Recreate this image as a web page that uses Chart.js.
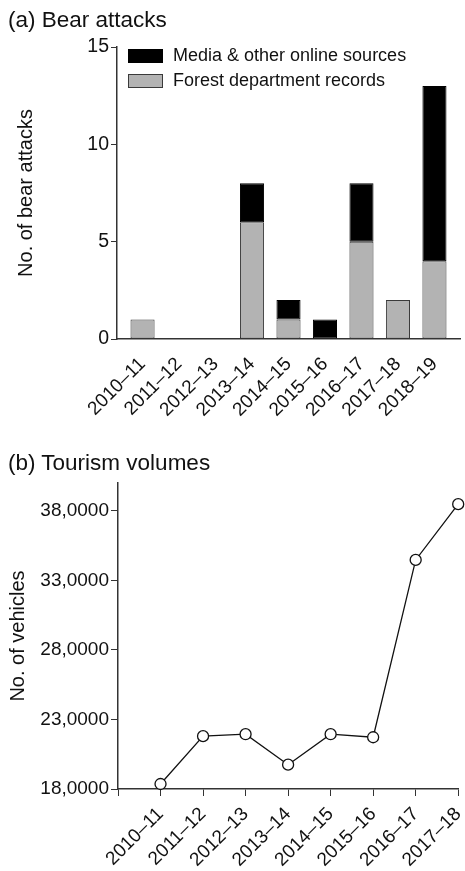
<!DOCTYPE html>
<html>
<head>
<meta charset="utf-8">
<script src="https://cdn.jsdelivr.net/npm/chart.js@4/dist/chart.umd.min.js"></script>
<style>
    body { margin: 0; background: #fff; font-family: "Liberation Sans", Arial, sans-serif; }
    .panel { position: absolute; left: 0; width: 465px; }
    .title { position: absolute; left: 8px; font-size: 22.5px; color: #111; }
</style>
</head>
<body>
<div class="panel" style="top: 0; height: 460px;"><canvas id="bearChart"></canvas></div>
<div class="panel" style="top: 455px; height: 416px;"><canvas id="tourChart"></canvas></div>
<div class="title" style="top: 7px;">(a) Bear attacks</div>
<div class="title" style="top: 450px;">(b) Tourism volumes</div>
<script>
// Bear attacks data
const bearYears = ['2010–11', '2011–12', '2012–13', '2013–14', '2014–15', '2015–16', '2016–17', '2017–18', '2018–19'];
const forestRecords = [1, 0, 0, 6, 1, 0, 5, 2, 4];
const mediaSources = [0, 0, 0, 2, 1, 1, 3, 0, 9];
const bearTicks = [0, 5, 10, 15];

// Tourism data
const tourYears = ['2010–11', '2011–12', '2012–13', '2013–14', '2014–15', '2015–16', '2016–17', '2017–18'];
const vehicles = [183600, 218000, 219400, 197500, 219400, 217200, 344700, 384800];
const vehicleTicks = [180000, 230000, 280000, 330000, 380000];

const font = 'Liberation Sans, Arial, sans-serif';
const ink = '#111';
Chart.defaults.font.family = font;
Chart.defaults.color = ink;

const toPoints = (arr) => arr.map((v, i) => ({ x: i, y: v === 0 ? null : v }));

// drop the extra side padding that rotated labels ask for
const noSidePad = (s) => { s.paddingLeft = 0; s.paddingRight = 0; };

// legend drawn inside the plot, top-left
const insideLegend = {
    id: 'insideLegend',
    afterDraw(chart) {
        const { ctx, chartArea } = chart;
        const items = [chart.data.datasets[1], chart.data.datasets[0]];
        ctx.save();
        ctx.font = '18px ' + font;
        ctx.textBaseline = 'middle';
        items.forEach((ds, i) => {
            const x = chartArea.left + 11;
            const y = chartArea.top + 2 + i * 25;
            ctx.fillStyle = ds.backgroundColor;
            ctx.strokeStyle = ds.borderColor;
            ctx.lineWidth = 1;
            ctx.fillRect(x, y, 35, 14);
            ctx.strokeRect(x + 0.5, y + 0.5, 34, 13);
            ctx.fillStyle = ink;
            ctx.fillText(ds.label, x + 45, y + 7);
        });
        ctx.restore();
    }
};

new Chart(document.getElementById('bearChart'), {
    type: 'bar',
    data: {
        datasets: [
            {
                label: 'Forest department records',
                data: toPoints(forestRecords),
                backgroundColor: '#b3b3b3',
                borderColor: '#3a3a3a',
                borderWidth: 1,
                borderSkipped: false
            },
            {
                label: 'Media & other online sources',
                data: toPoints(mediaSources),
                backgroundColor: '#000',
                borderColor: '#000',
                borderWidth: 1,
                borderSkipped: false
            }
        ]
    },
    options: {
        responsive: true,
        maintainAspectRatio: false,
        animation: false,
        barPercentage: 0.66,
        categoryPercentage: 1,
        layout: { padding: { top: 47, right: 5, left: 0, bottom: 0 } },
        plugins: { legend: { display: false }, tooltip: { enabled: false } },
        scales: {
            x: {
                type: 'linear',
                stacked: true,
                offset: false,
                min: -0.7,
                max: 8.7,
                afterBuildTicks: (s) => { s.ticks = bearYears.map((_, i) => ({ value: i })); },
                afterFit: (s) => { s.height = 121; noSidePad(s); },
                grid: { display: false },
                border: { display: true, color: '#333', width: 1.5 },
                ticks: {
                    autoSkip: false,
                    minRotation: 45,
                    maxRotation: 45,
                    padding: 6,
                    font: { size: 19 },
                    callback: (v) => bearYears[v]
                }
            },
            y: {
                stacked: true,
                min: 0,
                max: 15,
                afterBuildTicks: (s) => { s.ticks = bearTicks.map(v => ({ value: v })); },
                afterFit: (s) => { s.width = 117; },
                grid: { drawOnChartArea: false, drawTicks: true, tickLength: 6, color: '#333' },
                border: { display: true, color: '#333', width: 1.5 },
                ticks: { font: { size: 19.5 }, padding: 2 },
                title: {
                    display: true,
                    text: 'No. of bear attacks',
                    font: { size: 20 },
                    padding: { top: 14, bottom: 0 }
                }
            }
        }
    },
    plugins: [insideLegend]
});

new Chart(document.getElementById('tourChart'), {
    type: 'line',
    data: {
        datasets: [{
            label: 'Vehicles',
            data: vehicles.map((v, i) => ({ x: i, y: v })),
            borderColor: ink,
            borderWidth: 1.3,
            tension: 0,
            pointRadius: 5.5,
            pointBackgroundColor: '#fff',
            pointBorderColor: ink,
            pointBorderWidth: 1.3,
            clip: false
        }]
    },
    options: {
        responsive: true,
        maintainAspectRatio: false,
        animation: false,
        layout: { padding: { top: 28, right: 6, left: 0, bottom: 0 } },
        plugins: { legend: { display: false }, tooltip: { enabled: false } },
        scales: {
            x: {
                type: 'linear',
                offset: false,
                min: -1,
                max: 7,
                afterBuildTicks: (s) => { s.ticks = [-1].concat(tourYears.map((_, i) => i)).map(v => ({ value: v })); },
                afterFit: (s) => { s.height = 82; noSidePad(s); },
                grid: { drawOnChartArea: false, drawTicks: true, tickLength: 7, color: '#333' },
                border: { display: true, color: '#333', width: 1.5 },
                ticks: {
                    autoSkip: false,
                    minRotation: 45,
                    maxRotation: 45,
                    padding: 7,
                    font: { size: 19 },
                    callback: (v) => v < 0 ? '' : tourYears[v]
                }
            },
            y: {
                min: 180000,
                max: 400000,
                afterBuildTicks: (s) => { s.ticks = vehicleTicks.map(v => ({ value: v })); },
                afterFit: (s) => { s.width = 118; },
                grid: { drawOnChartArea: false, drawTicks: true, tickLength: 7, color: '#333' },
                border: { display: true, color: '#333', width: 1.5 },
                ticks: {
                    font: { size: 19 },
                    padding: 2,
                    callback: (v) => (v / 10000) + ',0000'
                },
                title: {
                    display: true,
                    text: 'No. of vehicles',
                    font: { size: 20 },
                    padding: { top: 6, bottom: 0 }
                }
            }
        }
    }
});
</script>
</body>
</html>
